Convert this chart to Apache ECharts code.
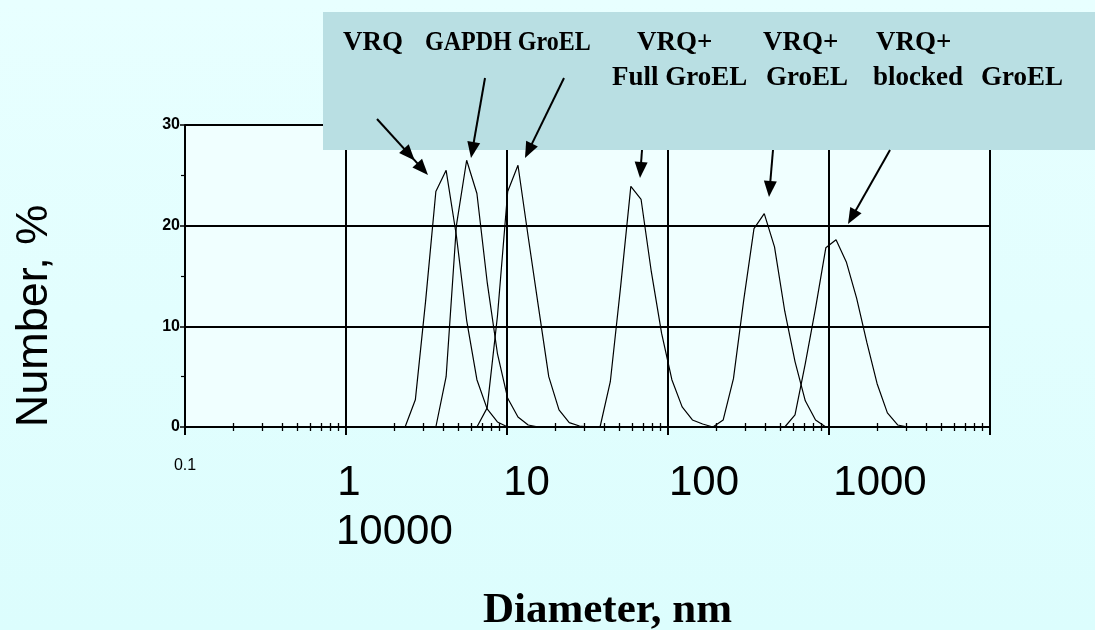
<!DOCTYPE html>
<html><head><meta charset="utf-8">
<script src="https://cdn.jsdelivr.net/npm/echarts@6/dist/echarts.min.js"></script>
<style>html,body{margin:0;padding:0;background:#e4ffff;}#c{width:1095px;height:630px;}</style>
</head><body><div id="c"></div>
<script>
// Size bins (nm), standard DLS log-spaced classes
const sizes = [0.4,0.4632,0.5365,0.6213,0.7195,0.8332,0.9649,1.117,1.294,1.499,
  1.736,2.010,2.328,2.696,3.122,3.615,4.187,4.849,5.615,6.503,
  7.531,8.721,10.10,11.70,13.54,15.69,18.17,21.04,24.36,28.21,
  32.67,37.84,43.82,50.75,58.77,68.06,78.82,91.28,105.7,122.4,
  141.8,164.2,190.1,220.2,255.0,295.3,342.0,396.1,458.7,531.2,
  615.1,712.4,825.0,955.4,1106,1281,1484,1718,1990,2305,
  2669,3091,3580,4145,4801,5560,6439,7456,8635,10000];

// Number % per bin, each series starts at the given bin index
const vrqStart = 12;
const vrq = [0, 2.7, 12.5, 23.4, 25.5, 19.0, 10.6, 4.7, 1.8, 0.5, 0];
const gapdhStart = 15;
const gapdh = [0, 5.0, 20.0, 26.5, 23.2, 14.4, 7.3, 2.85, 1.0, 0.2, 0];
const groelStart = 19;
const groel = [0, 1.9, 11.0, 23.4, 26.0, 18.9, 11.9, 5.0, 1.7, 0.43, 0.1, 0];
const fullStart = 31;
const fullGroel = [0, 4.5, 13.9, 23.9, 22.6, 15.4, 9.3, 4.7, 2.0, 0.7, 0.3, 0];
const vrqGroelStart = 42;
const vrqGroel = [0, 0.7, 4.8, 12.6, 19.7, 21.2, 17.9, 11.5, 6.5, 2.6, 0.7, 0];
const blockedStart = 49;
const blocked = [0, 1.2, 6.3, 11.8, 17.8, 18.6, 16.4, 12.8, 8.4, 4.3, 1.4, 0.2, 0];

const xMajor = [0.1, 1, 10, 100, 1000, 10000];
const xSmallLabel = [0.1];
const xBigLabels = [1, 10, 100, 1000];
const xExtraLabel = '10000';
const yTicks = [0, 10, 20, 30];

const boxRow1 = ['VRQ', 'GAPDH GroEL', 'VRQ+', 'VRQ+', 'VRQ+'];
const boxRow2 = ['Full GroEL', 'GroEL', 'blocked', 'GroEL'];

const xMinor = [];
for (let d = 0.1; d < 10000; d *= 10) for (let k = 2; k <= 9; k++) xMinor.push(+(k * d).toPrecision(3));

function pairs(start, vals) { return vals.map((v, k) => [sizes[start + k], v]); }

const gridRect = {left: 185, top: 125, width: 805, height: 302, outerBoundsMode: 'none', containLabel: false};
const BLACK = '#000';

function arrow(x1, y1, x2, y2, extraHeadAt) {
  const dx = x2 - x1, dy = y2 - y1, len = Math.hypot(dx, dy);
  const ux = dx / len, uy = dy / len, nx = -uy, ny = ux;
  const L = 16, W = 6.5;
  const els = [{
    type: 'line', z: 110,
    shape: {x1: x1, y1: y1, x2: x2 - ux * L * 0.6, y2: y2 - uy * L * 0.6},
    style: {stroke: BLACK, lineWidth: 2}
  }];
  const heads = [len];
  if (extraHeadAt) heads.push(extraHeadAt);
  heads.forEach(h => {
    const tx = x1 + ux * h, ty = y1 + uy * h;
    els.push({
      type: 'polygon', z: 111,
      shape: {points: [[tx, ty], [tx - ux * L + nx * W, ty - uy * L + ny * W], [tx - ux * L - nx * W, ty - uy * L - ny * W]]},
      style: {fill: BLACK}
    });
  });
  return els;
}

const chart = echarts.init(document.getElementById('c'), null, {renderer: 'canvas'});

const lineStyle = {color: BLACK, width: 1.2};
const mkSeries = (name, start, vals) => ({
  name: name, type: 'line', xAxisIndex: 0, yAxisIndex: 0, data: pairs(start, vals),
  showSymbol: false, symbol: 'none', lineStyle: lineStyle, silent: true, z: 5, animation: false
});

// label layout inside the annotation box
const row1X = [343, 425, 637, 763, 876];
const row1ScaleX = [1, 0.89, 1, 1, 1];
const row2X = [612, 766, 873, 981];

const graphic = [
  {type: 'rect', z: 100, shape: {x: 323, y: 12, width: 800, height: 138}, style: {fill: '#b9dfe3'}}
];
boxRow1.forEach((t, i) => graphic.push({type: 'text', z: 105, x: row1X[i], y: 30, scaleX: row1ScaleX[i],
  style: {text: t, font: 'bold 27px "Liberation Serif"', fill: BLACK, verticalAlign: 'top'}}));
boxRow2.forEach((t, i) => graphic.push({type: 'text', z: 105, x: row2X[i], y: 65,
  style: {text: t, font: 'bold 27px "Liberation Serif"', fill: BLACK, verticalAlign: 'top'}}));
[].concat(
  arrow(377, 119, 428, 175, 56),
  arrow(485, 78, 471, 158),
  arrow(564, 78, 525, 158),
  arrow(642, 150, 640, 178),
  arrow(773, 150, 769, 197),
  arrow(890, 150, 848, 224)
).forEach(e => graphic.push(e));

const hiddenY = i => ({type: 'value', gridIndex: i, min: 0, max: 30, show: false});

// per-label left padding (label boxes are centered on their tick)
const bigPad = {1: 6, 10: 39, 100: 72, 1000: 102};
const rich = {};
xBigLabels.forEach(v => { rich['p' + v] = {padding: [0, 0, 0, bigPad[v]], fontSize: 42,
  fontFamily: 'Arial, "Liberation Sans"', color: BLACK}; });

chart.setOption({
  animation: false,
  backgroundColor: {type: 'linear', x: 0, y: 0, x2: 0, y2: 1,
    colorStops: [{offset: 0, color: '#e8ffff'}, {offset: 1, color: '#dcfdfd'}]},
  grid: [
    Object.assign({show: true, backgroundColor: '#f0ffff', borderWidth: 0}, gridRect),
    Object.assign({show: false}, gridRect),
    Object.assign({show: false}, gridRect)
  ],
  xAxis: [
    { // main axis line, minor ticks below, small 0.1 label
      type: 'log', logBase: 10, min: 0.1, max: 10000, gridIndex: 0, position: 'bottom',
      axisLine: {show: true, onZero: false, lineStyle: {color: BLACK, width: 2}},
      axisTick: {show: true, customValues: xMinor, length: 4, lineStyle: {color: BLACK, width: 1.3}},
      splitLine: {show: false}, minorTick: {show: false},
      axisLabel: {show: true, customValues: xSmallLabel, margin: 31, color: BLACK,
        fontFamily: 'Arial, "Liberation Sans"', fontSize: 16, formatter: v => String(v)},
      name: 'Diameter, nm', nameLocation: 'middle', nameGap: 162,
      nameTextStyle: {fontFamily: '"Liberation Serif"', fontWeight: 'bold', fontSize: 43, color: BLACK,
        padding: [0, 0, 0, 40], verticalAlign: 'top'}
    },
    { // minor ticks above, big labels
      type: 'log', logBase: 10, min: 0.1, max: 10000, gridIndex: 1, position: 'bottom',
      axisLine: {show: false},
      axisTick: {show: true, inside: true, customValues: xMinor, length: 4, lineStyle: {color: BLACK, width: 1.3}},
      splitLine: {show: false},
      axisLabel: {show: true, customValues: xBigLabels, margin: 35, align: 'center',
        formatter: v => '{p' + v + '|' + v + '}', rich: rich}
    },
    { // decade ticks + vertical grid lines
      type: 'log', logBase: 10, min: 0.1, max: 10000, gridIndex: 2, position: 'bottom',
      axisLine: {show: false},
      axisTick: {show: true, customValues: xMajor, length: 8, lineStyle: {color: BLACK, width: 2}},
      splitLine: {show: true, lineStyle: {color: BLACK, width: 2}},
      axisLabel: {show: false}
    }
  ],
  yAxis: [
    {
      type: 'value', gridIndex: 0, min: 0, max: 30, interval: 10,
      axisLine: {show: true, onZero: false, lineStyle: {color: BLACK, width: 2}},
      axisTick: {show: true, length: 5, lineStyle: {color: BLACK, width: 1.5}},
      minorTick: {show: true, splitNumber: 2, length: 4, lineStyle: {color: BLACK, width: 1.2}},
      splitLine: {show: true, lineStyle: {color: BLACK, width: 2}},
      axisLabel: {margin: 5, color: BLACK, fontFamily: 'Arial, "Liberation Sans"', fontSize: 16,
        fontWeight: 'bold', customValues: yTicks},
      name: 'Number, %', nameLocation: 'middle', nameGap: 128, nameRotate: 90,
      nameTextStyle: {fontFamily: 'Arial, "Liberation Sans"', fontSize: 45, color: BLACK,
        padding: [0, 80, 0, 0]}
    },
    hiddenY(1), hiddenY(2)
  ],
  series: [
    mkSeries('VRQ', vrqStart, vrq),
    mkSeries('GAPDH', gapdhStart, gapdh),
    mkSeries('GroEL', groelStart, groel),
    mkSeries('VRQ+Full GroEL', fullStart, fullGroel),
    mkSeries('VRQ+GroEL', vrqGroelStart, vrqGroel),
    mkSeries('VRQ+blocked GroEL', blockedStart, blocked)
  ],
  graphic: graphic
});

// Wrapped "10000" label placed under the "1" label, anchored on the axis scale
const x1px = chart.convertToPixel({xAxisIndex: 1}, 1);
chart.setOption({graphic: graphic.concat([{
  type: 'text', z: 105, x: x1px - 10, y: 511,
  style: {text: xExtraLabel, font: '42px Arial, "Liberation Sans"', fill: BLACK, textAlign: 'left'}
}])});
</script>
</body></html>
